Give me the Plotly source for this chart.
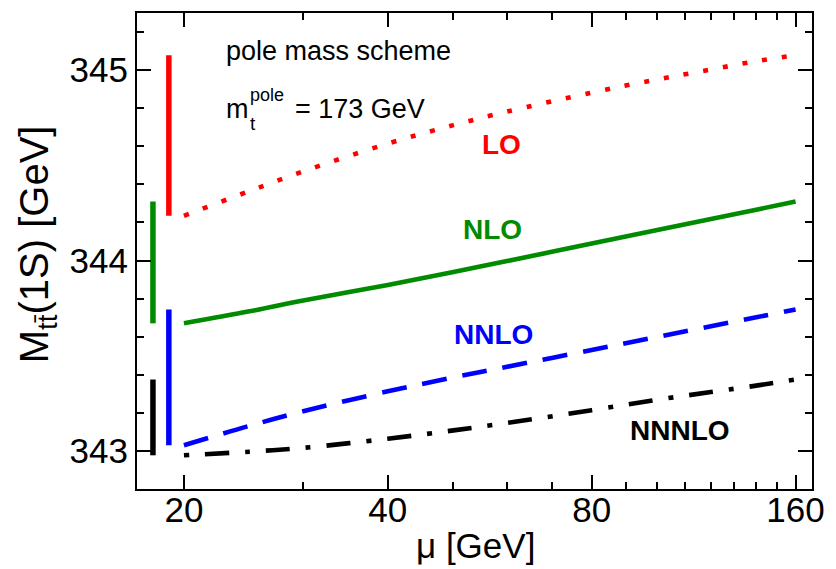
import math
import plotly.graph_objects as go

# ---------------- data ----------------
mu = [20, 25, 30, 40, 50, 60, 80, 100, 120, 140, 160]
lo = [344.235, 344.365, 344.468, 344.614, 344.711, 344.782, 344.882, 344.951, 345.003, 345.047, 345.078]
nlo = [343.670, 343.733, 343.790, 343.872, 343.940, 343.997, 344.089, 344.160, 344.218, 344.267, 344.310]
nnlo = [343.030, 343.132, 343.208, 343.313, 343.386, 343.442, 343.530, 343.599, 343.655, 343.702, 343.743]
nnnlo = [342.977, 342.996, 343.016, 343.064, 343.108, 343.147, 343.214, 343.269, 343.309, 343.343, 343.375]

x_major = [20, 40, 80, 160]
x_minor = [30, 50, 60, 70, 90, 100, 110, 120, 130, 140, 150]
y_major = [343, 344, 345]
y_minor = [342.8, 343.2, 343.4, 343.6, 343.8, 344.2, 344.4, 344.6, 344.8, 345.2]

FONT = "Liberation Sans, Arial, Helvetica, sans-serif"
RED = "#ff0000"
GREEN = "rgb(0,139,0)"
BLUE = "#0000ff"
BLACK = "#000000"

# plot area in pixels
L, R, T, B = 137, 821, 11, 489
W, H = 836, 569


def px(x, y):
    return (x - L) / (R - L), (B - y) / (B - T)


fig = go.Figure()

# range bars (spread of each curve over mu = 20..160)
bars = [(19, lo, RED), (18, nlo, GREEN), (19, nnlo, BLUE), (18, nnnlo, BLACK)]
for xb, ser, col in bars:
    fig.add_trace(go.Scatter(x=[xb, xb], y=[min(ser), max(ser)], mode="lines",
                             line=dict(color=col, width=5.5), showlegend=False,
                             hoverinfo="skip"))

curves = [
    (lo, RED, "5px,15px"),
    (nlo, GREEN, "solid"),
    (nnlo, BLUE, "25px,16px"),
    (nnnlo, BLACK, "5px,16px,24px,16px"),
]
for ser, col, dash in curves:
    fig.add_trace(go.Scatter(x=mu, y=ser, mode="lines",
                             line=dict(color=col, width=4.6, dash=dash, shape="spline"),
                             showlegend=False))

axis_common = dict(showline=True, linewidth=2, linecolor="black", mirror="ticks",
                   ticks="inside", ticklen=14, tickwidth=1.5, tickcolor="black",
                   showgrid=False, zeroline=False,
                   tickfont=dict(family=FONT, size=35, color="black"))

fig.update_xaxes(type="log", range=[math.log10(17.05), math.log10(169.2)],
                 tickmode="array", tickvals=x_major, ticktext=[str(v) for v in x_major],
                 ticklabelstandoff=-11,
                 minor=dict(tickmode="array", tickvals=x_minor, ticks="inside", ticklen=7,
                            tickwidth=1.5, tickcolor="black", showgrid=False),
                 **axis_common)
fig.update_yaxes(range=[342.8, 345.3], tickmode="array", tickvals=y_major,
                 ticktext=[str(v) for v in y_major],
                 minor=dict(tickmode="array", tickvals=y_minor, ticks="inside", ticklen=7,
                            tickwidth=1.5, tickcolor="black", showgrid=False),
                 **axis_common)

annotations = []


def add_text(text, x, y, size, color="black", xanchor="left", yanchor="middle", angle=0):
    xp, yp = px(x, y)
    annotations.append(dict(text=text, x=xp, y=yp, xref="paper", yref="paper",
                            xanchor=xanchor, yanchor=yanchor, showarrow=False,
                            textangle=angle,
                            font=dict(family=FONT, size=size, color=color)))


add_text("pole mass scheme", 225, 49.5, 27)
add_text("m", 225, 107.7, 27)
add_text("t", 249, 121.5, 19)
add_text("pole", 249, 93.8, 18)
add_text("= 173 GeV", 295, 107.7, 27)

add_text("<b>LO</b>", 506.5, 143.5, 28, RED, xanchor="center")
add_text("<b>NLO</b>", 497.5, 228.5, 28, GREEN, xanchor="center")
add_text("<b>NNLO</b>", 498.7, 333.5, 28, BLUE, xanchor="center")
add_text("<b>NNNLO</b>", 687.3, 430.5, 28, BLACK, xanchor="center")

add_text("\u03bc [GeV]", 480, 546, 35, xanchor="center")
add_text("M<sub>tt\u0304</sub>(1S) [GeV]", 36, 243, 40, xanchor="center", angle=-90)

fig.update_layout(width=W, height=H, margin=dict(l=L, r=W - R, t=T, b=H - B),
                  plot_bgcolor="white", paper_bgcolor="white",
                  annotations=annotations, showlegend=False,
                  font=dict(family=FONT, color="black"))

fig.write_html("out.html", config={"displayModeBar": False},
               post_script="document.body.style.margin='0px';document.body.style.padding='0px';")
